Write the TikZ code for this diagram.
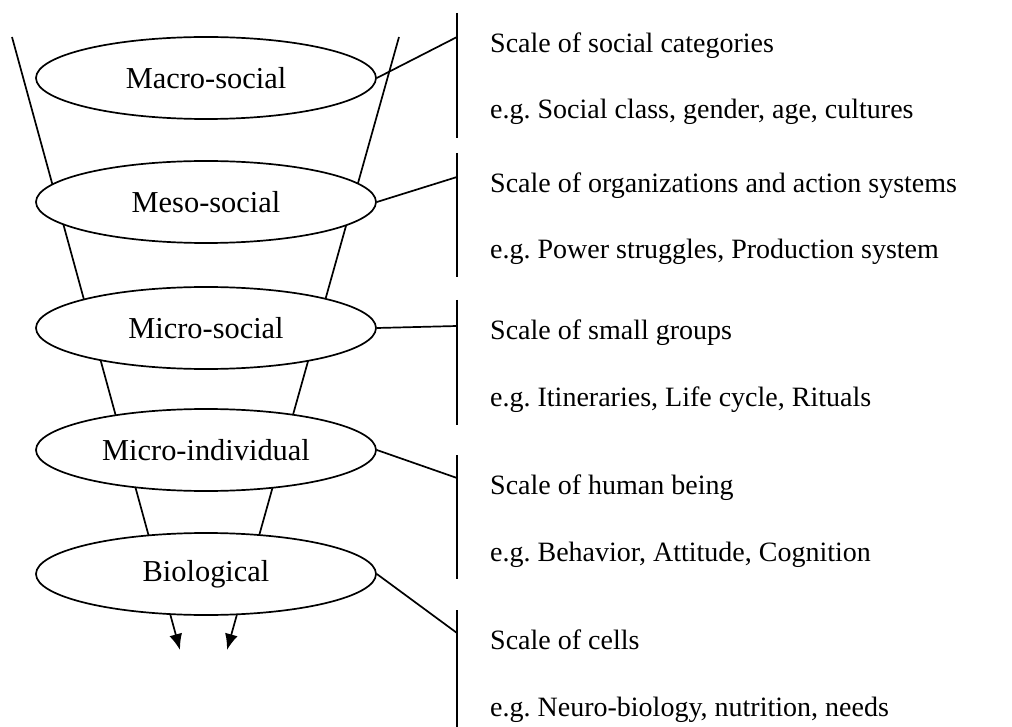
\documentclass[tikz,border=0pt]{standalone}
\usepackage{fontspec}
\setmainfont{Liberation Serif}
\usepackage{tikz}
\usetikzlibrary{shapes.geometric,arrows.meta}
\frenchspacing

\tikzset{
  level/.style={ellipse, draw, fill=white, line width=1.7pt, minimum width=340pt, minimum height=82pt, inner sep=0pt, font=\fontsize{30.4}{32}\selectfont},
  scaletext/.style={anchor=base west, inner sep=0pt, font=\fontsize{28}{30}\selectfont},
  link/.style={line width=1.7pt}
}

\begin{document}
\begin{tikzpicture}[x=1pt,y=-1pt]
                \useasboundingbox (0,0) rectangle (1012,727);
                % Funnel sides
                \coordinate (ltop) at (12,37);
                \coordinate (lend) at (180,650);
                \coordinate (rtop) at (399,37);
                \coordinate (rend) at (227,650);
                \draw[link, -{Latex[length=16pt,width=13pt]}] (ltop) -- (lend);
                \draw[link, -{Latex[length=16pt,width=13pt]}] (rtop) -- (rend);

                % Levels
                \node[level] (macro) at (206,78) {Macro-social};
                \node[level] (meso) at (206,202) {Meso-social};
                \node[level] (microsoc) at (206,328) {Micro-social};
                \node[level] (microind) at (206,450) {Micro-individual};
                \node[level] (bio) at (206,574) {Biological};

                % Brackets on the right
                \draw[link] (457,13) -- (457,138);
                \draw[link] (457,153) -- (457,277);
                \draw[link] (457,300) -- (457,425);
                \draw[link] (457,455) -- (457,579);
                \draw[link] (457,610) -- (457,727);
                \coordinate (hmacro) at (457,37);
                \coordinate (hmeso) at (457,177);
                \coordinate (hmicrosoc) at (457,326);
                \coordinate (hmicroind) at (457,478);
                \coordinate (hbio) at (457,633);

                % Connectors
                \draw[link] (macro.east) -- (hmacro);
                \draw[link] (meso.east) -- (hmeso);
                \draw[link] (microsoc.east) -- (hmicrosoc);
                \draw[link] (microind.east) -- (hmicroind);
                \draw[link] (bio.east) -- (hbio);

                % Scale texts
                \node[scaletext] (t1) at (490,53) {Scale of social categories};
                \node[scaletext] (e1) at (490,119) {e.g. Social class, gender, age, cultures};
                \node[scaletext] (t2) at (490,193) {Scale of organizations and action systems};
                \node[scaletext] (e2) at (490,259) {e.g. Power struggles, Production system};
                \node[scaletext] (t3) at (490,339) {Scale of small groups};
                \node[scaletext] (e3) at (490,406) {e.g. Itineraries, Life cycle, Rituals};
                \node[scaletext] (t4) at (490,494) {Scale of human being};
                \node[scaletext] (e4) at (490,561) {e.g. Behavior, Attitude, Cognition};
                \node[scaletext] (t5) at (490,649) {Scale of cells};
                \node[scaletext] (e5) at (490,716) {e.g. Neuro-biology, nutrition, needs};
            \end{tikzpicture}
\end{document}
